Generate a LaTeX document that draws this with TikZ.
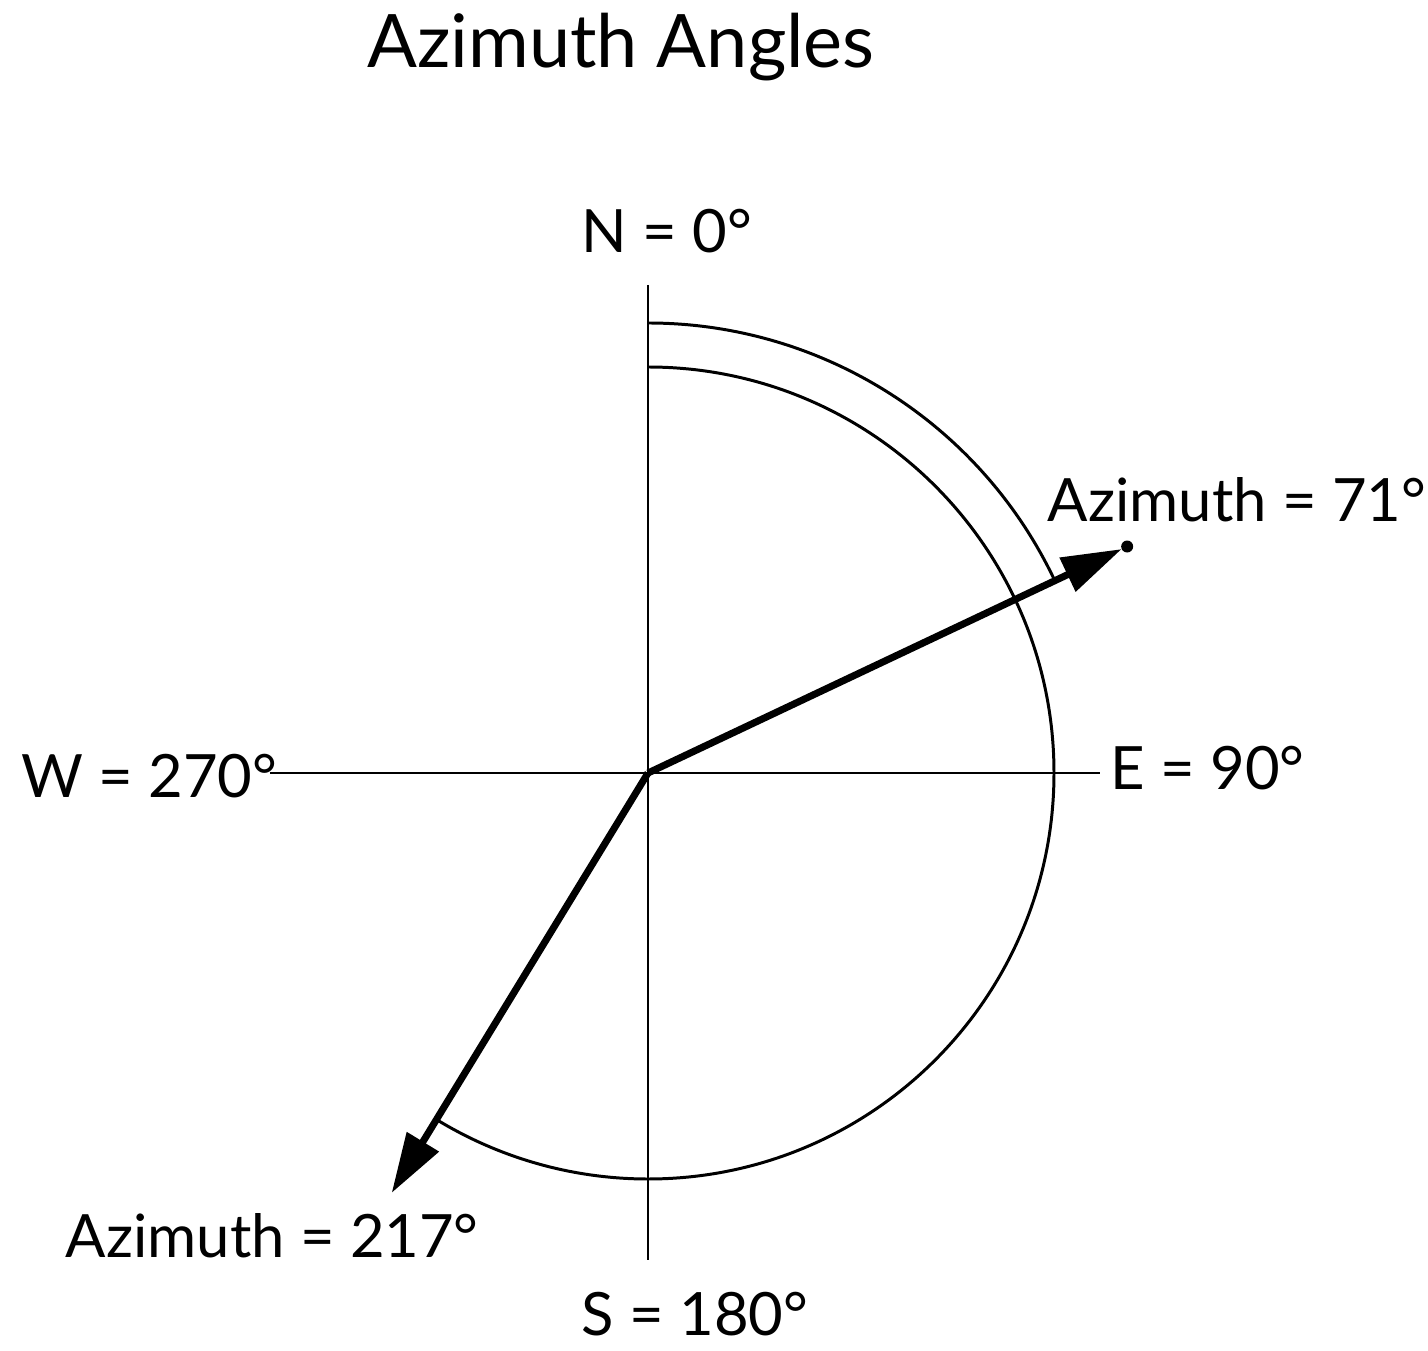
\documentclass[tikz,border=0pt]{standalone}
\usepackage{fontspec}
\setmainfont{Lato}
\usetikzlibrary{arrows.meta}

\begin{document}
\begin{tikzpicture}[
  x=0.1mm,y=0.1mm,
  axis/.style={line width=0.85pt},
  sweep/.style={line width=0.85pt},
  azi/.style={line width=2pt,-{Triangle[length=6mm,width=3.6mm]}},
  lbl/.style={inner sep=0pt,font=\fontsize{17}{17}\selectfont},
  ttl/.style={inner sep=0pt,font=\fontsize{21}{21}\selectfont}
]
\useasboundingbox (-648,-577) rectangle (780,773);
% ---------- axes ----------
\coordinate (O) at (0,0);
\coordinate (ntop) at (0,488);
\coordinate (sbot) at (0,-487);
\coordinate (wend) at (-378,0);
\coordinate (eend) at (452,0);
\draw[axis] (ntop) -- (sbot);
\draw[axis] (wend) -- (eend);
% ---------- azimuth arcs ----------
\draw[sweep] (90:450) arc[start angle=90,end angle=25.3,radius=450];
\draw[sweep] (90:406) arc[start angle=90,end angle=-121.4,radius=406];
% ---------- azimuth directions ----------
\coordinate (a71) at (25.3:530);
\coordinate (a217) at (-121.4:492);
\draw[azi,shorten >=0.6mm] (O) -- (a71);
\fill (a71) circle[radius=6];
\draw[azi] (O) -- (a217);
% ---------- labels ----------
\node[ttl,anchor=base] (title) at (-27,705) {Azimuth Angles};
\node[lbl,anchor=base] (north) at (19,520) {N = 0°};
\node[lbl,anchor=base] (south) at (47,-562) {S = 180°};
\node[lbl,anchor=base west] (east) at (462,-17) {E = 90°};
\node[lbl,anchor=base east] (west) at (-370,-25) {W = 270°};
\node[lbl,anchor=base west] (lab71) at (399,251) {Azimuth = 71°};
\node[lbl,anchor=base west] (lab217) at (-583,-484) {Azimuth = 217°};
\end{tikzpicture}
\end{document}
